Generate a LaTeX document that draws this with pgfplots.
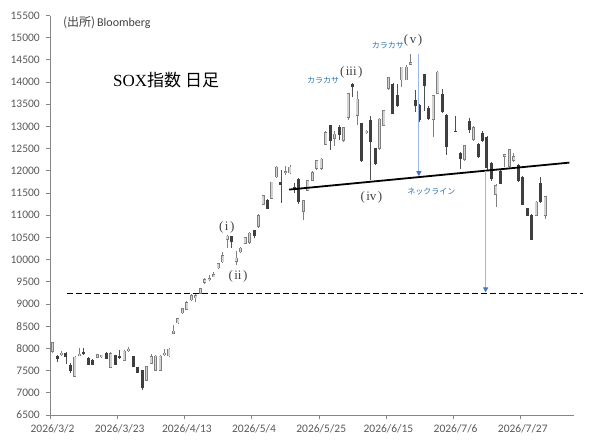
\documentclass[border=0pt]{standalone}
\usepackage{fontspec}
\setmainfont{Carlito}
\newfontfamily\cjk{Noto Sans CJK JP}
\newfontfamily\serif{Liberation Serif}
\usepackage{pgfplots}
\pgfplotsset{compat=1.18}
\usepackage{pgfplotstable}
\usetikzlibrary{arrows.meta}
\definecolor{axisgray}{HTML}{868686}
\definecolor{labelgray}{HTML}{595959}
\definecolor{upfill}{HTML}{D3D3D3}
\definecolor{upedge}{HTML}{7F7F7F}
\definecolor{downfill}{HTML}{3F3F3F}
\definecolor{upwick}{HTML}{808080}
\definecolor{downwick}{HTML}{505050}
\definecolor{annblue}{HTML}{2E75B6}
\definecolor{arrowline}{HTML}{9DB8E6}
\definecolor{arrowhead}{HTML}{4472C4}
\definecolor{anngray}{HTML}{404040}

\pgfplotstableread{
i o h l c
0 7925 8150 7900 8130
2 7870 7940 7840 7900
5 7370 7820 7360 7810
6 7850 8000 7840 7875
10 7800 7880 7780 7860
11 7810 7860 7790 7850
13 7570 7910 7550 7890
16 7720 7960 7710 7940
17 7950 8030 7930 7990
21 7280 7600 7260 7590
22 7660 7880 7640 7810
23 7510 7850 7500 7830
24 7510 7850 7500 7830
25 7860 7980 7840 7900
26 7830 8010 7800 7990
27 8340 8520 8320 8390
28 8570 8690 8540 8680
29 8800 8910 8780 8900
30 8880 9060 8860 9040
31 9090 9220 9070 9200
32 9140 9220 9050 9190
33 9240 9370 9220 9350
34 9480 9590 9460 9560
35 9540 9660 9530 9580
36 9620 9730 9600 9660
37 9810 9930 9790 9910
38 9950 10180 9930 10090
39 10450 10560 10260 10530
41 9960 10200 9870 10040
42 10170 10280 10150 10260
43 10370 10520 10350 10500
44 10380 10620 10360 10600
46 10740 11020 10720 11000
47 11250 11460 11230 11450
49 11380 11760 11360 11750
50 11860 12100 11840 12090
52 11950 12100 11900 11990
53 11950 12140 11930 12090
56 11080 11350 10890 11340
57 11560 11800 11540 11790
58 11790 11990 11770 11970
59 12050 12250 12030 12240
60 12050 12290 12030 12270
61 12600 12890 12580 12870
63 12730 12900 12560 12830
65 12680 12990 12660 12980
66 13200 13760 13150 13740
68 13250 13800 13030 13620
70 12850 12920 12820 12900
73 12500 13190 12480 13170
74 13030 13380 13010 13360
75 13850 14120 13830 14100
78 14050 14350 13900 14340
79 14050 14390 14040 14340
80 14400 14640 14380 14440
85 13150 13710 12760 13700
86 13750 14260 13730 14230
92 12250 12590 12230 12570
94 12700 13020 12680 12980
99 11460 11700 11190 11670
101 12330 12380 12090 12370
102 12100 12500 12080 12480
103 12230 12400 12190 12320
108 11000 11310 10980 11300
110 10990 11440 10910 11420
}\up

\pgfplotstableread{
i o h l c
1 7830 7860 7700 7770
3 7890 7930 7650 7810
4 7625 7680 7450 7500
7 7905 8000 7860 7880
8 7775 7800 7620 7640
9 7730 7760 7620 7640
12 7890 7910 7760 7780
14 7850 7860 7620 7640
15 7830 7960 7760 7790
18 7820 7830 7580 7600
19 7570 7580 7440 7450
20 7500 7520 7060 7110
40 10530 10540 10260 10400
45 10650 10670 10480 10530
48 11340 11360 11140 11160
51 11740 12020 11270 11700
54 11620 11720 11500 11580
55 11820 11850 11250 11300
62 13020 13040 12460 12680
64 12970 13040 12700 12820
67 13960 13980 13660 13890
69 13060 13080 12200 12220
71 13130 13240 11790 12650
72 12500 12520 12140 12170
76 13950 13970 13280 13300
77 13700 13960 13440 13460
81 13590 13830 13320 13480
82 13470 13500 13100 13150
83 14170 14190 13360 13920
84 13400 13460 13140 13180
87 13720 13850 13300 13330
88 13250 13270 12350 12540
90 12900 13230 12870 12880
91 12390 12420 12050 12280
93 13110 13180 12860 12920
95 12600 12620 12290 12310
96 12840 12900 12660 12680
97 12760 12780 12030 12080
98 12160 12200 11780 11830
100 12000 12030 11700 11720
104 12120 12160 11760 11790
105 11860 11880 11220 11230
106 11150 11170 10980 11000
107 11000 11020 10440 10450
109 11710 11860 11280 11300
}\down

\begin{document}
\begin{tikzpicture}
\path[use as bounding box] (0,0) rectangle (604bp,440bp);
\begin{axis}[
  at={(50.3bp,25bp)}, anchor=south west,
  scale only axis, width=524bp, height=399.5bp,
  xmin=-0.5, xmax=116.5, ymin=6500, ymax=15500,
  axis lines=left,
  axis line style={-, draw=axisgray, line width=0.8bp},
  tick style={draw=axisgray, line width=0.8bp},
  tick align=outside, major tick length=4bp,
  ytick={6500,7000,...,15500},
  scaled y ticks=false,
  xtick={-0.5,14.5,...,104.5},
  xticklabels={2026/3/2,2026/3/23,2026/4/13,2026/5/4,2026/5/25,2026/6/15,2026/7/6,2026/7/27},
  tick label style={font=\fontsize{11.5bp}{13bp}\selectfont, text=labelgray},
  xticklabel style={xshift=2.24bp, yshift=-2bp},
  yticklabel style={xshift=-3bp},
  /pgf/number format/assume math mode=true,
  /pgf/number format/1000 sep={},
  clip=false,
  candle/.style={draw=none, mark=none, forget plot, error bars/.cd, y dir=both, y explicit, error mark=none},
]
% wicks
\addplot[candle, error bar style={draw=upwick, line width=0.8bp}]
  table[x=i, y expr={(\thisrow{h}+\thisrow{l})/2}, y error expr={(\thisrow{h}-\thisrow{l})/2}] {\up};
\addplot[candle, error bar style={draw=downwick, line width=0.8bp}]
  table[x=i, y expr={(\thisrow{h}+\thisrow{l})/2}, y error expr={(\thisrow{h}-\thisrow{l})/2}] {\down};
% up bodies: edge then fill
\addplot[candle, error bar style={draw=upedge, line width=3bp, line cap=butt}]
  table[x=i, y expr={(\thisrow{o}+\thisrow{c})/2}, y error expr={abs(\thisrow{c}-\thisrow{o})/2+8}] {\up};
\addplot[candle, error bar style={draw=upfill, line width=1.6bp, line cap=butt}]
  table[x=i, y expr={(\thisrow{o}+\thisrow{c})/2}, y error expr={max(abs(\thisrow{c}-\thisrow{o})/2-8,0)}] {\up};
% down bodies
\addplot[candle, error bar style={draw=downfill, line width=3bp, line cap=butt}]
  table[x=i, y expr={(\thisrow{o}+\thisrow{c})/2}, y error expr={abs(\thisrow{c}-\thisrow{o})/2+8}] {\down};

% dashed target line
\addplot[black, line width=1.8bp, dash pattern=on 6bp off 3bp] coordinates {(3.17,9238) (118.4,9238)};
% neckline
\addplot[black, line width=1.8bp] coordinates {(52.8,11578) (115.4,12186)};
% arrows
\addplot[arrowline, line width=1bp, -{Triangle[length=5bp,width=5bp,color=arrowhead]}] coordinates {(81.8,14640) (81.8,11880)};
\addplot[arrowline, line width=1bp, -{Triangle[length=5bp,width=5bp,color=arrowhead]}] coordinates {(96.7,12000) (96.7,9262)};

% texts
\node[anchor=west, text=anngray, font=\fontsize{12bp}{14bp}\selectfont, inner sep=0pt] at (axis cs:2.3,15340) {{\cjk (出所)}\,Bloomberg};
\node[anchor=west, text=black, font=\fontsize{17bp}{20bp}\selectfont, inner sep=0pt] at (axis cs:13.5,14037) {{\serif SOX}{\cjk 指数 日足}};
\tikzset{roman/.style={text=anngray, font=\serif\fontsize{13bp}{15bp}\selectfont, inner sep=0pt}}
\node[roman] at (axis cs:38.9,10737) {(\kern1.5bp i\kern1.5bp)};
\node[roman] at (axis cs:41.4,9627) {(\kern1.5bp ii\kern1.5bp)};
\node[roman] at (axis cs:66.7,14225) {(\kern1.5bp iii\kern1.5bp)};
\node[roman] at (axis cs:80.5,14937) {(\kern1.5bp v\kern1.5bp)};
\node[roman] at (axis cs:71.2,11412) {(\kern1.5bp iv\kern1.5bp)};
\tikzset{kata/.style={text=annblue, font=\cjk\fontsize{8bp}{10bp}\selectfont, inner sep=0pt}}
\node[kata] at (axis cs:60.4,14037) {カラカサ};
\node[kata] at (axis cs:74.9,14825) {カラカサ};
\node[kata] at (axis cs:84.6,11525) {ネックライン};
\end{axis}
\end{tikzpicture}
\end{document}
